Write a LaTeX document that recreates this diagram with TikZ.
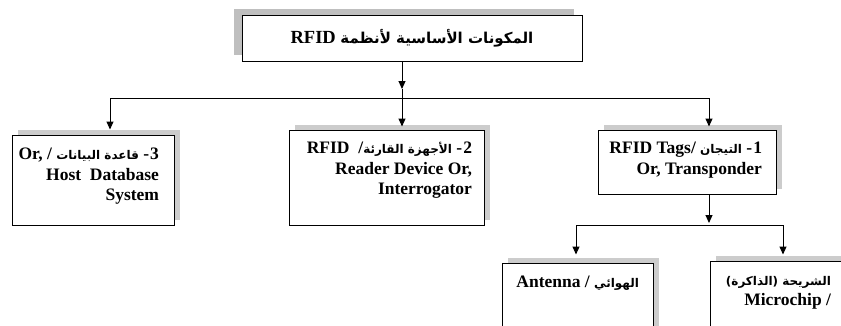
\documentclass[tikz,border=0pt]{standalone}
\usepackage{fontspec}
\setmainfont{Liberation Serif}
\newfontfamily\arabicfont[Script=Arabic]{DejaVu Sans}
\TeXXeTstate=1
\usepackage{tikz}
\usetikzlibrary{arrows.meta,shadows}

\newcommand\arab[2][12]{{\arabicfont\fontsize{#1}{20.5}\selectfont #2}}

\begin{document}
\begin{tikzpicture}[x=1pt,y=-1pt,line width=1pt,>={Triangle[length=8pt,width=7pt]},
        box/.style={draw,fill=white,inner sep=0pt},
        shadeleft/.style={general shadow={fill=black!25,draw=none,shadow xshift=-8pt,shadow yshift=6pt}},
        shaderight/.style={general shadow={fill=black!20,draw=none,shadow xshift=6pt,shadow yshift=5pt}},
        txt/.style={anchor=north east,align=right,inner sep=0pt,font=\bfseries\fontsize{17.5}{20.5}\selectfont}]
        \clip (0,0) rectangle (841,325);

        % draw the boxes
        \node[box,shadeleft,minimum width=340pt,minimum height=46pt] (top) at (412,38) {};
        \node[box,shaderight,minimum width=162pt,minimum height=90pt] (db) at (93,180) {};
        \node[box,shaderight,minimum width=195pt,minimum height=95pt] (reader) at (386.5,177.5) {};
        \node[box,shaderight,minimum width=178pt,minimum height=64pt] (tags) at (687,162) {};
        \node[box,shaderight,minimum width=151pt,minimum height=90pt] (antenna) at (577.5,308) {};
        \node[box,shaderight,minimum width=160pt,minimum height=90pt] (chip) at (790,306) {};

        % the texts
        \node[font=\bfseries\fontsize{18.5}{22}\selectfont] (toptext) at (top) {\beginR\arab[15]{المكونات الأساسية لأنظمة} RFID\endR};
        \node[txt] (dbtext) at ([shift={(-15,13)}]db.north east) {\beginR 3\kern1pt-\ \arab{قاعدة البيانات} / Or,\endR\\Host\ \ Database\\System};
        \node[txt] (readertext) at ([shift={(-12,12)}]reader.north east) {\beginR 2\kern1pt-\ \arab{الأجهزة القارئة}/\ \ RFID\endR\\Reader Device Or,\\Interrogator};
        \node[txt] (tagstext) at ([shift={(-14,12)}]tags.north east) {\beginR 1\kern1pt-\ \arab{التيجان}\ /\beginL RFID Tags\endL\endR\\Or, Transponder};
        \node[txt] (antennatext) at ([shift={(-14,13)}]antenna.north east) {\beginR\arab{الهوائي} / Antenna\endR};
        \node[txt] (chiptext) at ([shift={(122,15)}]chip.north west) {\beginR\arab{الشريحة (الذاكرة)}\endR\\\beginR / Microchip\endR};

        % draw the arrows
        \coordinate (hub) at (402,98);
        \coordinate (hubtip) at (402,89);
        \coordinate (hubdb) at (110,98);
        \coordinate (hubtags) at (709,98);
        \coordinate (subhub) at (709,225);
        \coordinate (subant) at (576,225);
        \coordinate (subchip) at (783,225);
        \draw[->] (top.south -| hub) -- (hubtip);
        \draw (hubtip) -- (hub);
        \draw (hubdb) -- (hubtags);
        \draw[->,shorten >=5pt] (hubdb) -- (hubdb |- db.north);
        \draw[->,shorten >=3pt] (hub) -- (hub |- reader.north);
        \draw[->,shorten >=3pt] (hubtags) -- (hubtags |- tags.north);
        \draw[->,shorten >=2pt] (hubtags |- tags.south) -- (subhub);
        \draw (subant) -- (subchip);
        \draw[->,shorten >=8pt] (subant) -- (subant |- antenna.north);
        \draw[->,shorten >=6pt] (subchip) -- (subchip |- chip.north);

\end{tikzpicture}
\end{document}
